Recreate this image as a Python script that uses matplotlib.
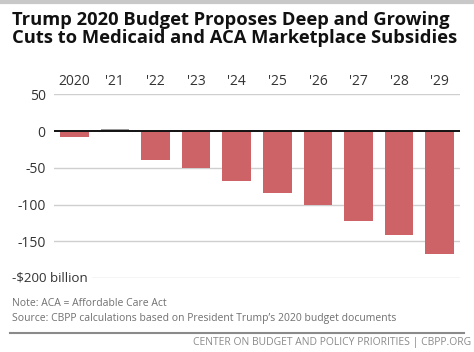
import matplotlib
matplotlib.use("Agg")
import matplotlib.pyplot as plt
from matplotlib.lines import Line2D

years = ["2020", "'21", "'22", "'23", "'24", "'25", "'26", "'27", "'28", "'29"]
values = [-8, 3, -40, -50, -68, -84, -101, -122, -142, -167]
yticks = [50, 0, -50, -100, -150, -200]
ytick_labels = ["50", "0", "-50", "-100", "-150", "-$200 billion"]

title = "Trump 2020 Budget Proposes Deep and Growing\nCuts to Medicaid and ACA Marketplace Subsidies"
note = "Note: ACA = Affordable Care Act"
source = "Source: CBPP calculations based on President Trump\u2019s 2020 budget documents"
footer = "CENTER ON BUDGET AND POLICY PRIORITIES | CBPP.ORG"

W, H = 474, 352
fig = plt.figure(figsize=(W / 100, H / 100), dpi=100)
fig.patch.set_facecolor("white")

font = "Open Sans"
ax = fig.add_axes([54 / W, 1 - 278 / H, 406 / W, (278 - 94.3) / H])
x = list(range(len(years)))
colors = ["#9a9a9a" if v > 0 else "#cd6367" for v in values]
ax.bar(x, values, width=0.7, color=colors, zorder=2)
ax.set_xlim(-0.5, len(years) - 0.5)
ax.set_ylim(-200, 50)
for s in ax.spines.values():
    s.set_visible(False)
for yv in yticks:
    if yv == 0:
        continue
    if yv == -200:
        ax.axhline(yv, xmin=(92 - 54) / 406, color="#cfcfcf", lw=1, zorder=1)
    else:
        ax.axhline(yv, color="#cfcfcf", lw=1, zorder=1)
ax.axhline(0, color="#111111", lw=1.4, zorder=3)

ax.set_yticks(yticks[:-1])
ax.set_yticklabels(ytick_labels[:-1], fontsize=10, color="#333333", family=font)
ax.tick_params(axis="y", length=0, pad=6)
ax.text(-42 / 406, yticks[-1], ytick_labels[-1], transform=ax.get_yaxis_transform(),
        ha="left", va="center", fontsize=9.6, color="#333333", family=font)

ax.xaxis.tick_top()
ax.set_xticks(x)
ax.set_xticklabels(years, fontsize=10, color="#333333", family=font)
ax.tick_params(axis="x", length=0, pad=4)

fig.text(12 / W, 1 - 11 / H, title, ha="left", va="top", fontsize=13.2, fontweight="bold",
         color="#111111", family=font, linespacing=1.0)
fig.text(12 / W, 1 - 303 / H, note, ha="left", va="center", fontsize=7.5, color="#707070", family=font)
fig.text(12 / W, 1 - 318 / H, source, ha="left", va="center", fontsize=7.5, color="#707070", family=font)
fig.text(471 / W, 1 - 342 / H, footer, ha="right", va="center", fontsize=7.5, color="#8a8a8a", family=font)

fig.add_artist(Line2D([10 / W, 464 / W], [1 - 333 / H, 1 - 333 / H], color="#8a8a8a", lw=1.5))
fig.add_artist(Line2D([0, 1], [1 - 1.5 / H, 1 - 1.5 / H], color="#c8c8c8", lw=3))

fig.savefig("out.png", dpi=100)
